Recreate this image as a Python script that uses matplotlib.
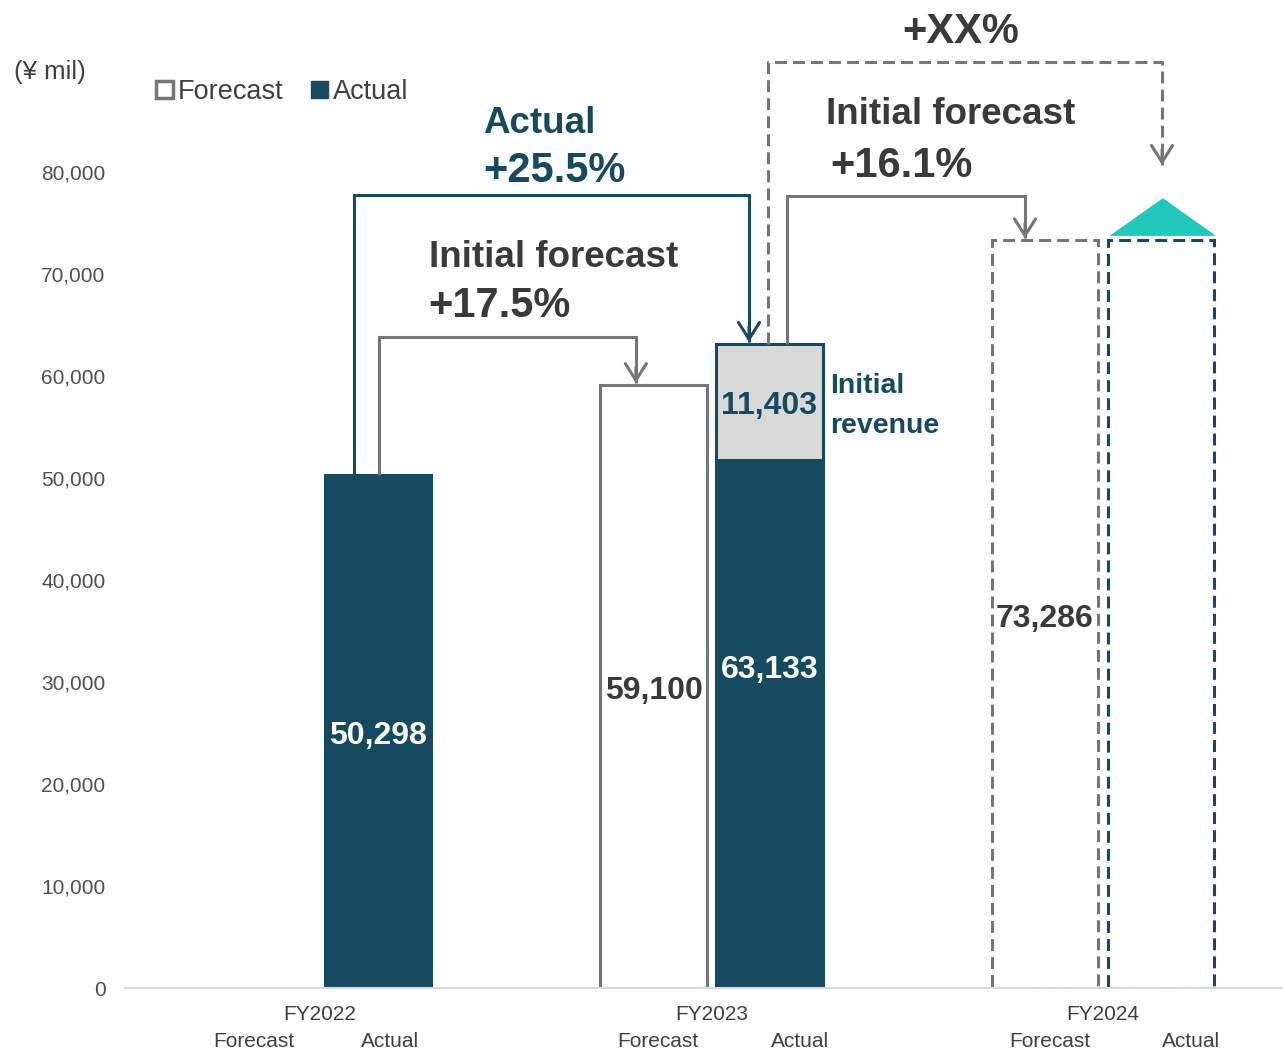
import numpy as np
import matplotlib
matplotlib.use("Agg")
import matplotlib.pyplot as plt
from matplotlib.patches import Patch, Polygon

plt.rcParams['font.family'] = ['Liberation Sans', 'DejaVu Sans']

# ---------------- data ----------------
categories = ['FY2022', 'FY2023', 'FY2024']
forecast = [np.nan, 59100, 73286]
actual = [50298, 63133, np.nan]
fy2024_target = 73286          # dashed placeholder for FY2024 actual
initial_revenue = 11403        # part of FY2023 actual
yticks = [0, 10000, 20000, 30000, 40000, 50000, 60000, 70000, 80000]
growth_labels = ['Initial forecast\n+17.5%', 'Actual\n+25.5%', 'Initial forecast\n+16.1%', '+XX%']

# ---------------- style ----------------
NAVY = '#164A60'
GREY = '#767676'
LIGHT = '#D9D9D9'
TEAL = '#20C9BC'
DARK = '#3A3A3A'
TICK = '#505050'

fig = plt.figure(figsize=(12.83, 10.51), dpi=100)
ax = fig.add_axes([125 / 1283, 63 / 1051, 1158 / 1283, 988 / 1051])
ax.set_xlim(-0.498, 2.46)
ax.set_ylim(0, 96863)

x = np.arange(len(categories))
off = 0.148
w = 0.272
LW = 2.2
DASH = (0, (3.9, 2.0))
DY = -420   # small vertical nudge so text sits visually centred

# bars
ax.bar(x[0] + off, actual[0], w, color=NAVY, edgecolor=NAVY, lw=LW, zorder=3)
ax.bar(x[1] - off, forecast[1], w, facecolor='white', edgecolor=GREY, lw=LW, zorder=3)
base = actual[1] - initial_revenue
ax.bar(x[1] + off, base, w, color=NAVY, edgecolor=NAVY, lw=LW, zorder=3)
ax.bar(x[1] + off, initial_revenue, w, bottom=base, facecolor=LIGHT, edgecolor=NAVY, lw=LW, zorder=3)
ax.bar(x[2] - off, forecast[2], w, fill=False, edgecolor=GREY, lw=LW, linestyle=DASH, zorder=3)
ax.bar(x[2] + off, fy2024_target, w, fill=False, edgecolor=NAVY, lw=LW, linestyle=DASH, zorder=3)

# teal triangle on top of FY2024 actual placeholder
tb = fy2024_target + 450
tri = Polygon([(x[2] + off - w / 2 + 0.005, tb), (x[2] + off + w / 2 + 0.005, tb),
               (x[2] + off + 0.005, tb + 3700)], closed=True, facecolor=TEAL, edgecolor='none', zorder=3)
ax.add_patch(tri)

# value labels
ax.text(x[0] + off, actual[0] / 2 + DY, f'{actual[0]:,}', ha='center', va='center',
        color='white', fontsize=23, fontweight='bold', zorder=5)
ax.text(x[1] - off, forecast[1] / 2 + DY, f'{forecast[1]:,}', ha='center', va='center',
        color=DARK, fontsize=23, fontweight='bold', zorder=5)
ax.text(x[1] + off, actual[1] / 2 + DY, f'{actual[1]:,}', ha='center', va='center',
        color='white', fontsize=23, fontweight='bold', zorder=5)
ax.text(x[1] + off, base + initial_revenue / 2 + DY, f'{initial_revenue:,}', ha='center', va='center',
        color=NAVY, fontsize=23, fontweight='bold', zorder=5)
ax.text(x[2] - off, forecast[2] / 2 + DY, f'{forecast[2]:,}', ha='center', va='center',
        color=DARK, fontsize=23, fontweight='bold', zorder=5)
ax.text(x[1] + 0.303, 59020, 'Initial', ha='left', va='center',
        color=NAVY, fontsize=20.5, fontweight='bold', zorder=5)
ax.text(x[1] + 0.303, 55100, 'revenue', ha='left', va='center',
        color=NAVY, fontsize=20.5, fontweight='bold', zorder=5)


def connector(pts, color, ls='-'):
    xs = [p[0] for p in pts]
    ys = [p[1] for p in pts]
    ax.plot(xs, ys, color=color, lw=LW, linestyle=ls, solid_joinstyle='miter',
            solid_capstyle='butt', zorder=4)
    xe, ye = pts[-1]
    ax.annotate('', xy=(xe, ye), xytext=(xe, ye + 1500),
                arrowprops=dict(arrowstyle='->,head_length=0.6,head_width=0.38',
                                lw=LW, color=color, shrinkA=0, shrinkB=0,
                                mutation_scale=20), zorder=4)


# 1: initial forecast FY2022 -> FY2023 forecast
connector([(x[0] + 0.151, actual[0]), (x[0] + 0.151, 63824),
           (x[1] - 0.193, 63824), (x[1] - 0.193, forecast[1] + 200)], GREY)
# 2: actual FY2022 -> FY2023 actual
connector([(x[0] + 0.087, actual[0]), (x[0] + 0.087, 77745),
           (x[1] + 0.096, 77745), (x[1] + 0.096, actual[1] + 200)], NAVY)
# 3: FY2023 actual -> FY2024 forecast
connector([(x[1] + 0.193, actual[1]), (x[1] + 0.193, 77647),
           (x[2] - 0.199, 77647), (x[2] - 0.199, forecast[2] + 200)], GREY)
# 4: FY2023 actual -> FY2024 target (dashed)
connector([(x[1] + 0.144, actual[1]), (x[1] + 0.144, 90784),
           (x[2] + 0.151, 90784), (x[2] + 0.151, 80686)], GREY, ls=(0, (3.9, 2.0)))

# growth annotations
l1, p1 = growth_labels[0].split('\n')
ax.text(0.278, 71569, l1, ha='left', va='center', color=DARK, fontsize=26.5, fontweight='bold')
ax.text(0.276, 66863, p1, ha='left', va='center', color=DARK, fontsize=30, fontweight='bold')
l2, p2 = growth_labels[1].split('\n')
ax.text(0.416, 84804, l2, ha='left', va='center', color=NAVY, fontsize=26.5, fontweight='bold')
ax.text(0.416, 80098, p2, ha='left', va='center', color=NAVY, fontsize=30, fontweight='bold')
l3, p3 = growth_labels[2].split('\n')
ax.text(1.292, 85686, l3, ha='left', va='center', color=DARK, fontsize=26.5, fontweight='bold')
ax.text(1.303, 80588, p3, ha='left', va='center', color=DARK, fontsize=30, fontweight='bold')
ax.text(1.637, 93725, growth_labels[3], ha='center', va='center', color=DARK,
        fontsize=30, fontweight='bold', clip_on=False)

# axes styling
for s in ['top', 'right', 'left']:
    ax.spines[s].set_visible(False)
ax.spines['bottom'].set_color(LIGHT)
ax.spines['bottom'].set_linewidth(1.5)
ax.spines['bottom'].set_zorder(4)
ax.set_yticks(yticks)
ax.set_yticklabels([f'{v:,}' for v in yticks], fontsize=15, color=TICK)
ax.tick_params(axis='y', length=0, pad=14)
ax.set_xticks([])

# category labels
tr = ax.get_xaxis_transform()
sub_y = [-0.0545, -0.054, -0.054]
fc_off = [-0.17, -0.138, -0.135]
ac_off = [0.18, 0.225, 0.225]
for i, c in enumerate(categories):
    ax.text(x[i], -0.0265, c, transform=tr, ha='center', va='center', fontsize=15, color='#404040')
    ax.text(x[i] + fc_off[i], sub_y[i], 'Forecast', transform=tr, ha='center', va='center',
            fontsize=15, color='#404040')
    ax.text(x[i] + ac_off[i], sub_y[i], 'Actual', transform=tr, ha='center', va='center',
            fontsize=15, color='#404040')

# unit & legend
fig.text(14 / 1283, 1 - 72 / 1051, '(¥ mil)', ha='left', va='center', fontsize=18.5, color='#404040')
handles = [Patch(facecolor='white', edgecolor=GREY, lw=2.5), Patch(facecolor=NAVY, edgecolor=NAVY)]
fig.legend(handles, ['Forecast', 'Actual'], loc='center left',
           bbox_to_anchor=(156 / 1283, 1 - 92 / 1051), frameon=False, ncol=2,
           handlelength=0.62, handleheight=0.62, handletextpad=0.2, columnspacing=1.0,
           fontsize=19.5, labelcolor='#404040', borderpad=0, borderaxespad=0)

fig.savefig('out.png', dpi=100)
